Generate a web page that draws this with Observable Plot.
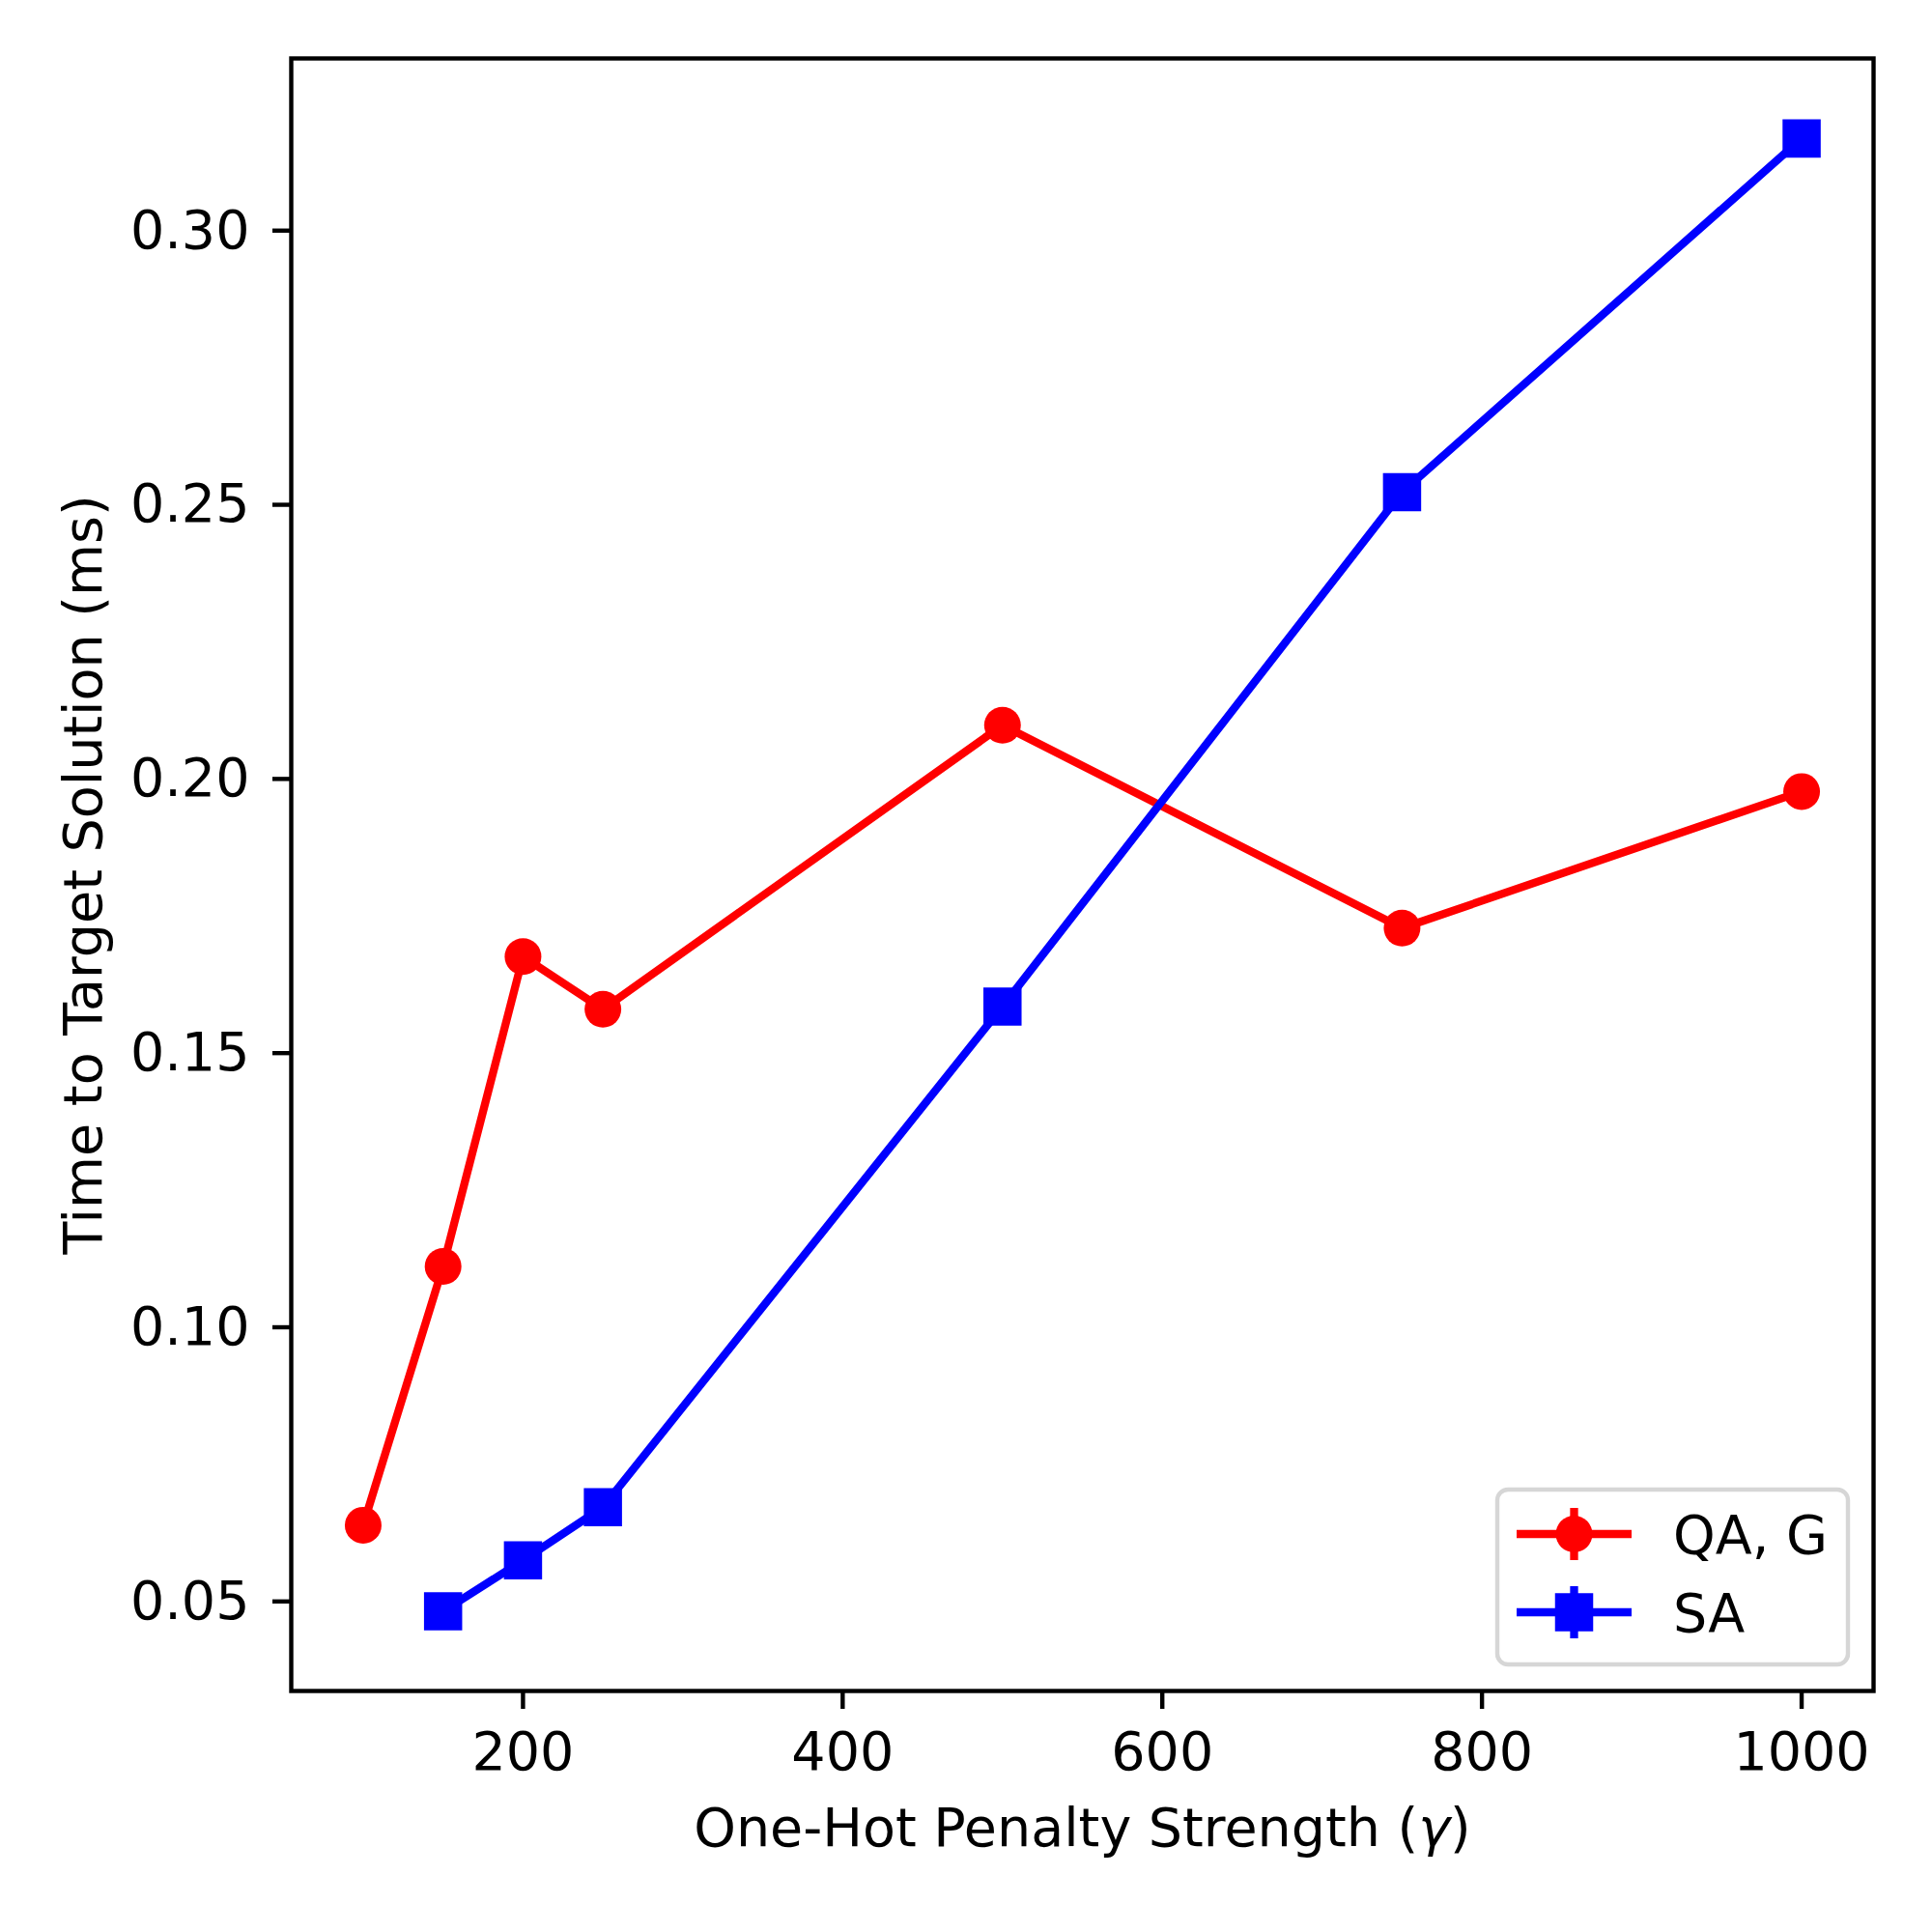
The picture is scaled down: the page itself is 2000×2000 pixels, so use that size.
<!DOCTYPE html>
<html>
<head>
<meta charset="utf-8">
<script src="https://cdn.jsdelivr.net/npm/d3@7"></script>
<script src="https://cdn.jsdelivr.net/npm/@observablehq/plot@0.6"></script>
<style>
  html, body { margin: 0; padding: 0; background: #fff; }
  #chart svg { display: block; }
</style>
</head>
<body>
<div id="chart"></div>
<script>
// ---- data ----
const gammaQA = [100, 150, 200, 250, 500, 750, 1000];
const ttsQA   = [0.0639, 0.1111, 0.1676, 0.1580, 0.2098, 0.1728, 0.1977];
const gammaSA = [150, 200, 250, 500, 750, 1000];
const ttsSA   = [0.0482, 0.0575, 0.0672, 0.1585, 0.2523, 0.3168];
const seriesNames = ["QA, G", "SA"];
const xTicks = [200, 400, 600, 800, 1000];
const yTicks = [0.05, 0.10, 0.15, 0.20, 0.25, 0.30];
const xLabelPre = "One-Hot Penalty Strength (";
const xLabelSym = "\u03B3";
const xLabelPost = ")";
const yLabel = "Time to Target Solution (ms)";

const qa = gammaQA.map((g, i) => ({g, t: ttsQA[i]}));
const sa = gammaSA.map((g, i) => ({g, t: ttsSA[i]}));

const FONT = 55.5;
const LW = 8.3;
const AXW = 4.4;
const colors = ["#ff0000", "#0000ff"];

const chart = Plot.plot({
  width: 2000,
  height: 2000,
  marginLeft: 301,
  marginRight: 61,
  marginTop: 60,
  marginBottom: 250,
  style: {fontFamily: "DejaVu Sans, sans-serif", fontSize: FONT + "px", background: "#fff", color: "#000"},
  x: {domain: [55, 1045], label: null},
  y: {domain: [0.03367, 0.3314], label: null},
  marks: [
    Plot.line(qa, {x: "g", y: "t", stroke: colors[0], strokeWidth: LW}),
    Plot.dot(qa, {x: "g", y: "t", r: 19, fill: colors[0], symbol: "circle"}),
    Plot.line(sa, {x: "g", y: "t", stroke: colors[1], strokeWidth: LW}),
    Plot.dot(sa, {x: "g", y: "t", r: 22.3, fill: colors[1], symbol: "square"}),
    Plot.frame({stroke: "#000", strokeWidth: AXW}),
    Plot.axisX({ticks: xTicks, tickSize: 19, tickPadding: 23, strokeWidth: AXW, fontSize: FONT, label: null, tickFormat: d3.format("d")}),
    Plot.axisY({ticks: yTicks, tickSize: 19, tickPadding: 24, strokeWidth: AXW, fontSize: FONT, label: null, tickFormat: d3.format(".2f")}),
    Plot.text([xLabelPre + xLabelSym + xLabelPost], {text: d => d, frameAnchor: "bottom", dy: 160, lineAnchor: "bottom", textAnchor: "middle", fontSize: FONT, className: "xlab"}),
    Plot.text([yLabel], {text: d => d, frameAnchor: "left", dx: -197, rotate: -90, lineAnchor: "bottom", textAnchor: "middle", fontSize: FONT})
  ]
});
document.getElementById("chart").appendChild(chart);

const svg = d3.select(chart);

// italic gamma (matplotlib mathtext style) in the x label
svg.selectAll("g.xlab text").each(function() {
  const t = d3.select(this);
  t.text(null);
  t.append("tspan").text(xLabelPre);
  t.append("tspan").attr("font-style", "italic").text(xLabelSym);
  t.append("tspan").text(xLabelPost);
});

// ---- legend (matplotlib-style, lower right) ----
const lg = svg.append("g")
  .attr("font-family", "DejaVu Sans, sans-serif")
  .attr("font-size", FONT)
  .attr("text-anchor", "start");
lg.append("rect")
  .attr("x", 1550).attr("y", 1542).attr("width", 363).attr("height", 181)
  .attr("rx", 11).attr("ry", 11)
  .attr("fill", "#fff").attr("fill-opacity", 0.8)
  .attr("stroke", "#d6d6d6").attr("stroke-width", AXW);
const rows = [1588, 1669];
seriesNames.forEach((name, i) => {
  const y = rows[i];
  const c = colors[i];
  lg.append("line").attr("x1", 1570).attr("x2", 1689).attr("y1", y).attr("y2", y)
    .attr("stroke", c).attr("stroke-width", LW);
  lg.append("line").attr("x1", 1629.5).attr("x2", 1629.5).attr("y1", y - 27).attr("y2", y + 27)
    .attr("stroke", c).attr("stroke-width", LW);
  if (i === 0) {
    lg.append("circle").attr("cx", 1629.5).attr("cy", y).attr("r", 19).attr("fill", c);
  } else {
    lg.append("rect").attr("x", 1629.5 - 19.75).attr("y", y - 19.75).attr("width", 39.5).attr("height", 39.5).attr("fill", c);
  }
  lg.append("text").attr("x", 1732).attr("y", y + 20).attr("fill", "#000").attr("text-anchor", "start").text(name);
});
</script>
</body>
</html>
